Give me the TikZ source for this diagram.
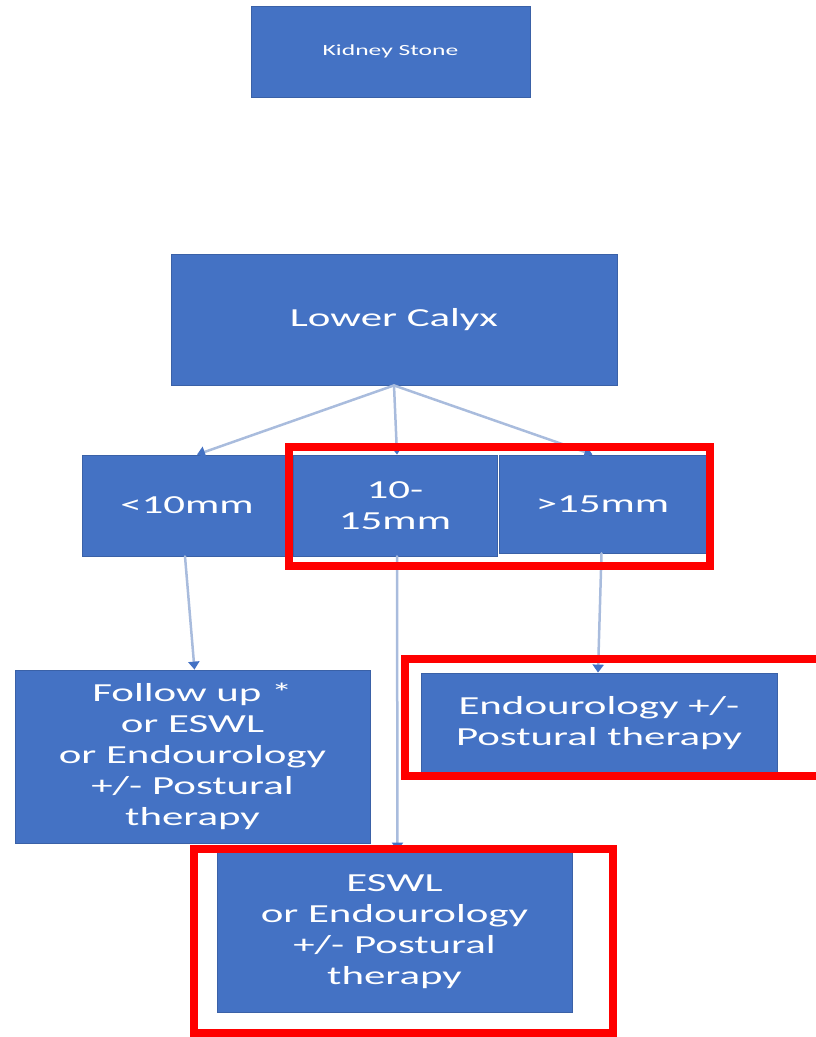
\documentclass[tikz,border=0pt]{standalone}
\usepackage{fontspec}
\setmainfont{Carlito}[FakeStretch=1.65]
\usetikzlibrary{arrows.meta}
\definecolor{boxblue}{HTML}{4472C4}
\definecolor{linkblue}{HTML}{A9BCDD}
\tikzset{
  box/.style={rectangle,fill=boxblue,draw=boxblue!85!black,line width=.8pt,text=white,align=center,inner sep=0pt},
  link/.style={draw=linkblue,line width=2.5pt,line cap=round,-{Triangle[width=11pt,length=8pt,color=boxblue]}},
  redmark/.style={draw=red,line width=8pt}
}
\begin{document}
\begin{tikzpicture}[x=1pt,y=-1pt,font=\fontsize{26}{31}\selectfont]
	\useasboundingbox (0,0) rectangle (815,1037);
	\node[box,minimum width=279pt,minimum height=91pt,font=\fontsize{15.5}{18}\selectfont] (stone) at (390.5,51.5) {Kidney Stone};
	\node[box,minimum width=446pt,minimum height=131pt] (calyx) at (394,319.5) {Lower Calyx};
	\node[box,minimum width=210pt,minimum height=101pt] (lt10) at (187,505.5) {<10mm};
	\node[box,minimum width=204pt,minimum height=101pt] (mid) at (395,505.5) {10-\\15mm};
	\node[box,minimum width=207pt,minimum height=98pt] (gt15) at (602.5,504) {>15mm};
	\node[box,minimum width=355pt,minimum height=173pt] (follow) at (192.5,756.5) {Follow up *\\or ESWL\\or Endourology\\+/- Postural\\therapy};
	\node[box,minimum width=356pt,minimum height=100pt] (endo) at (599,723) {Endourology +/-\\Postural therapy};
	\node[box,minimum width=355pt,minimum height=161pt] (eswl) at (394.5,931.5) {ESWL\\or Endourology\\+/- Postural\\therapy};
	% connectors
	\draw[link] (calyx.south) -- ([xshift=10pt]lt10.north);
	\draw[link] (calyx.south) -- ([xshift=2pt]mid.north);
	\draw[link] (calyx.south) -- ([xshift=-10pt]gt15.north);
	\draw[link] ([xshift=-2pt]lt10.south) -- ([xshift=2pt]follow.north);
	\draw[link] ([xshift=2pt]mid.south) -- ([xshift=3pt]eswl.north);
	\draw[link] ([xshift=-1pt]gt15.south) -- ([xshift=-1pt]endo.north);
	% red marks
	\draw[redmark] (289,447) rectangle (710,566);
	\draw[redmark] (405,659) rectangle (830,776);
	\draw[redmark] (194,849) rectangle (613,1033);
\end{tikzpicture}
\end{document}
